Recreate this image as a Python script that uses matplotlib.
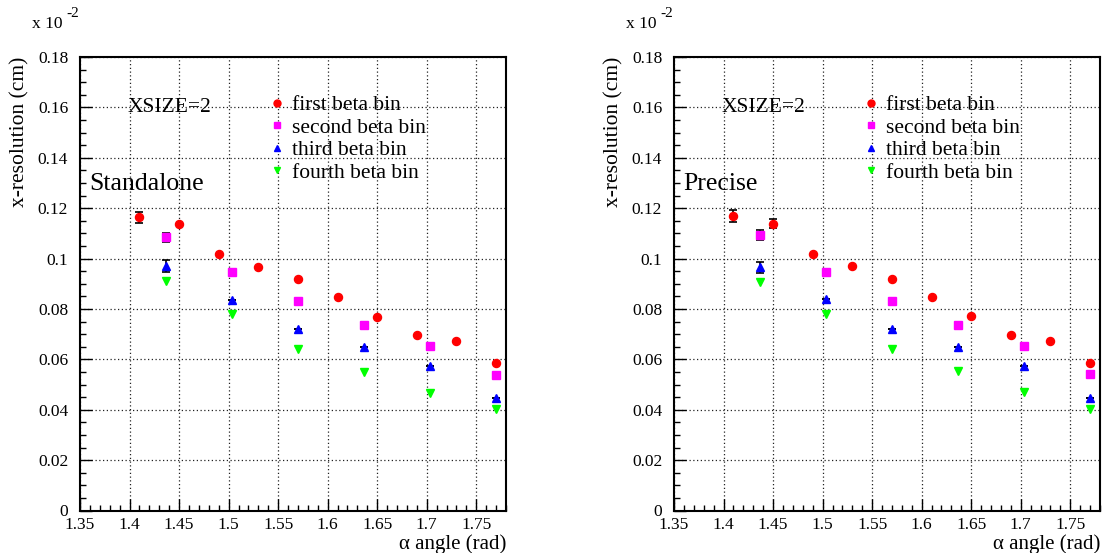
"""Resolution vs alpha angle, two panels (Standalone / Precise), ROOT-like style."""
import matplotlib

matplotlib.use("Agg")
import matplotlib.pyplot as plt
from matplotlib.lines import Line2D
from matplotlib.ticker import FuncFormatter, MultipleLocator

plt.rcParams["font.family"] = ["Liberation Serif", "DejaVu Serif"]

# x positions (rad)
alpha_first = [1.41, 1.45, 1.49, 1.53, 1.57, 1.61, 1.65, 1.69, 1.73, 1.77]
alpha_other = [1.4367, 1.5033, 1.57, 1.6367, 1.7033, 1.77]

# Standalone (x 10^-2 cm)
sa_first = [0.1163, 0.1137, 0.1019, 0.0968, 0.0917, 0.0847, 0.0770, 0.0698, 0.0671, 0.0585]
sa_first_err = [0.0023, 0, 0, 0, 0, 0, 0, 0, 0, 0]
sa_second = [0.1084, 0.0945, 0.0831, 0.0736, 0.0651, 0.0537]
sa_second_err = [0.0019, 0, 0, 0, 0, 0]
sa_third = [0.0972, 0.0836, 0.0721, 0.0648, 0.0574, 0.0446]
sa_third_err = [0.0024, 0, 0, 0, 0, 0]
sa_fourth = [0.0909, 0.0781, 0.0642, 0.0550, 0.0468, 0.0402]

# Precise (x 10^-2 cm)
pr_first = [0.1170, 0.1138, 0.1018, 0.0971, 0.0918, 0.0849, 0.0771, 0.0697, 0.0673, 0.0586]
pr_first_err = [0.0023, 0.0018, 0, 0, 0, 0, 0, 0, 0, 0]
pr_second = [0.1093, 0.0947, 0.0832, 0.0736, 0.0651, 0.0542]
pr_second_err = [0.0021, 0, 0, 0, 0, 0]
pr_third = [0.0965, 0.0838, 0.0722, 0.0650, 0.0575, 0.0447]
pr_third_err = [0.0023, 0, 0, 0, 0, 0]
pr_fourth = [0.0906, 0.0779, 0.0642, 0.0554, 0.0470, 0.0402]

labels = ["first beta bin", "second beta bin", "third beta bin", "fourth beta bin"]
panel_titles = ["Standalone", "Precise"]

# marker / colour per beta bin
STYLES = [("o", "#ff0000", 5.8), ("s", "#ff00ff", 6.0),
          ("^", "#0000ff", 6.0), ("v", "#00ff00", 5.4)]

W, H = 1102, 553


def _draw_panel(fig, left_px, title, first, first_err, second, second_err,
                third, third_err, fourth):
    ax = fig.add_axes([left_px / W, (H - 510.5) / H, 426 / W, 453.5 / H])
    ekw = dict(ecolor="black", elinewidth=1.2, capsize=3, capthick=1.2,
               linestyle="none", zorder=3)
    series = [(alpha_first, first, first_err), (alpha_other, second, second_err),
              (alpha_other, third, third_err), (alpha_other, fourth, None)]
    for (xs, ys, err), (mk, col, ms) in zip(series, STYLES):
        ax.errorbar(xs, ys, yerr=err, fmt=mk, color=col, mec=col, ms=ms, **ekw)

    ax.set_xlim(1.35, 1.78)
    ax.set_ylim(0, 0.18)
    ax.xaxis.set_major_locator(MultipleLocator(0.05))
    ax.xaxis.set_minor_locator(MultipleLocator(0.01))
    ax.yaxis.set_major_locator(MultipleLocator(0.02))
    ax.yaxis.set_minor_locator(MultipleLocator(0.005))
    ax.xaxis.set_major_formatter(FuncFormatter(
        lambda v, p: f"{v:.2f}".rstrip("0").rstrip(".")))
    ax.yaxis.set_major_formatter(FuncFormatter(
        lambda v, p: "0" if abs(v) < 1e-9 else f"{v:.2f}".rstrip("0")))
    ax.tick_params(which="both", direction="in", top=False, right=False,
                   labelsize=12.5, width=1)
    ax.tick_params(which="major", length=8.5)
    ax.tick_params(which="minor", length=4.3)
    ax.tick_params(axis="y", pad=8.5)
    ax.tick_params(axis="x", pad=4.5)
    ax.grid(True, which="major", ls=(0, (1, 2)), color="#222222", lw=0.9)
    ax.set_axisbelow(True)
    for s in ax.spines.values():
        s.set_linewidth(1.5)

    ax.text(1.0, -0.085, "α angle (rad)", transform=ax.transAxes,
            fontsize=15, ha="right", va="baseline")
    ax.set_ylabel("x-resolution (cm)", loc="top", fontsize=15.5, labelpad=6)

    ax.text(0.112, 0.889, "XSIZE=2", transform=ax.transAxes, fontsize=15.5,
            va="center", ha="left")
    ax.text(0.022, 0.719, title, transform=ax.transAxes, fontsize=18.5,
            va="center", ha="left")
    # "x 10^-2" multiplier above the axis
    ax.text(-0.113, 1.073, "x 10", transform=ax.transAxes, fontsize=12.5,
            va="center", ha="left")
    ax.text(-0.031, 1.097, "-2", transform=ax.transAxes, fontsize=11,
            va="center", ha="left")

    handles = [Line2D([], [], ls="none", marker=mk, color=col, mec=col, ms=5)
               for mk, col, _ in STYLES]
    ax.legend(handles, labels, loc="upper left", bbox_to_anchor=(0.411, 0.935),
              frameon=False, fontsize=15.5, handletextpad=0.1,
              labelspacing=0.115, handlelength=1.2, borderaxespad=0)
    return ax


fig = plt.figure(figsize=(W / 100, H / 100), dpi=100)
_draw_panel(fig, 80, panel_titles[0], sa_first, sa_first_err, sa_second,
            sa_second_err, sa_third, sa_third_err, sa_fourth)
_draw_panel(fig, 674, panel_titles[1], pr_first, pr_first_err, pr_second,
            pr_second_err, pr_third, pr_third_err, pr_fourth)
fig.savefig("out.png", dpi=100)
